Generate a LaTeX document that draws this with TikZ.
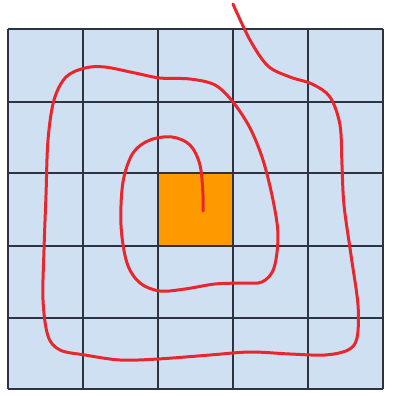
\documentclass[tikz,border=0pt]{standalone}
\definecolor{cellblue}{HTML}{CFE0F2}
\definecolor{goalorange}{HTML}{FF9900}
\definecolor{gridline}{HTML}{2D3340}
\definecolor{pathred}{HTML}{E8262B}
\usepackage{tikz}
\usetikzlibrary{positioning,calc}

\begin{document}
\begin{tikzpicture}[x=0.01cm, y=-0.01cm,
  gridln/.style={draw=gridline, line width=0.35pt},
  goal/.style={fill=goalorange},
  spiral/.style={draw=pathred, line width=0.85pt, line cap=round, line join=round}]
\useasboundingbox (0,0) rectangle (394,396);
\fill[cellblue] (8,29) rectangle (383,389);
\fill[goal] (158,173) rectangle (233,246);
\foreach \x in {8,83,158,233,308,383} \draw[gridln] (\x,29) -- (\x,389);
\foreach \y in {29,102,173,246,318,389} \draw[gridln] (8,\y) -- (383,\y);
% search path, spiralling in towards the goal cell
\draw[spiral] plot[smooth, tension=0.55] coordinates {
  (233,4) (250,40) (268,66) (290,77) (312,84) (330,97) (340,125) (342,165)
  (344,205) (351,255) (358,305) (357,338) (348,350) (325,355) (290,354)
  (250,352) (210,355) (158,359) (120,360) (85,355) (60,350) (48,336)
  (43,300) (44,250) (46,195) (48,140) (54,100) (66,77) (85,68) (105,67)
  (135,73) (160,78) (190,79) (215,85) (233,102) (250,128) (263,160)
  (273,200) (278,235) (274,268) (262,282) (242,283) (215,284) (185,289)
  (160,291) (140,283) (127,263) (121,225) (123,182) (133,153) (150,140)
  (172,137) (190,145) (200,165) (203,195) (203,211)};
\end{tikzpicture}
\end{document}
